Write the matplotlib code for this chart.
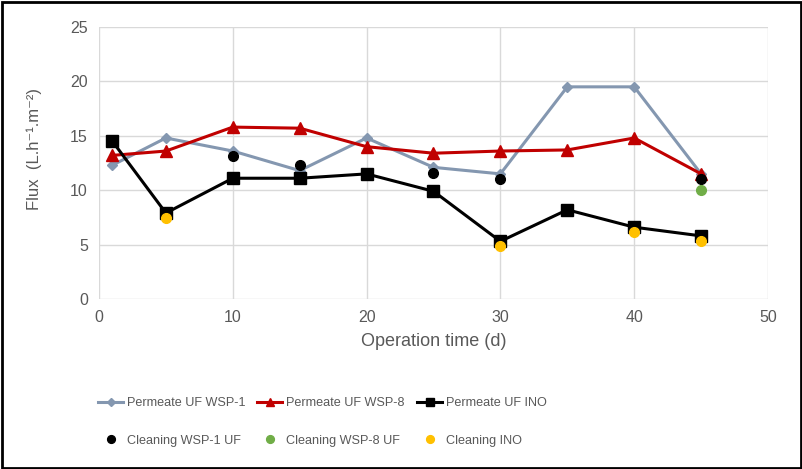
import matplotlib.pyplot as plt
from matplotlib.patches import Rectangle

plt.rcParams['font.family'] = ['Liberation Sans', 'DejaVu Sans']

# Operation time (d)
days = [1, 5, 10, 15, 20, 25, 30, 35, 40, 45]
wsp1 = [12.3, 14.8, 13.6, 11.8, 14.8, 12.1, 11.5, 19.5, 19.5, 11.5]
wsp8 = [13.2, 13.6, 15.8, 15.7, 14.0, 13.4, 13.6, 13.7, 14.8, 11.5]
ino = [14.5, 7.9, 11.1, 11.1, 11.5, 9.9, 5.3, 8.2, 6.6, 5.8]

# cleaning points
clean_wsp1_x = [10, 15, 25, 30, 45]
clean_wsp1_y = [13.1, 12.3, 11.6, 11.0, 11.0]
clean_wsp8_x = [45]
clean_wsp8_y = [10.0]
clean_ino_x = [5, 30, 40, 45]
clean_ino_y = [7.4, 4.9, 6.2, 5.3]

fig = plt.figure(figsize=(8.03, 4.69), dpi=100)
ax = fig.add_axes([99 / 803, 1 - 299 / 469, (768 - 99) / 803, (299 - 27) / 469])

h1, = ax.plot(days, wsp1, color='#8497B0', lw=2.2, marker='D', ms=5, label='Permeate UF WSP-1')
h2, = ax.plot(days, wsp8, color='#C00000', lw=2.2, marker='^', ms=8, label='Permeate UF WSP-8')
h3, = ax.plot(days, ino, color='black', lw=2.2, marker='s', ms=8, label='Permeate UF INO')
c1, = ax.plot(clean_wsp1_x, clean_wsp1_y, ls='none', marker='o', ms=7, color='black', label='Cleaning WSP-1 UF')
c2, = ax.plot(clean_wsp8_x, clean_wsp8_y, ls='none', marker='o', ms=7, color='#70AD47', label='Cleaning WSP-8 UF')
c3, = ax.plot(clean_ino_x, clean_ino_y, ls='none', marker='o', ms=7, color='#FFC000', label='Cleaning INO')

ax.set_xlim(0, 50)
ax.set_ylim(0, 25)
ax.set_xticks(range(0, 51, 10))
ax.set_yticks(range(0, 26, 5))
ax.grid(True, color='#D9D9D9', lw=1)
ax.set_axisbelow(True)
for s in ax.spines.values():
    s.set_visible(False)
ax.tick_params(length=0, labelsize=11.5, labelcolor='#595959', pad=8)
ax.set_xlabel('Operation time (d)', fontsize=13, color='#595959', labelpad=6)
ax.set_ylabel('Flux  (L.h⁻¹.m⁻²)', fontsize=12, color='#595959', labelpad=12)
ax.yaxis.set_label_coords(-0.085, 0.55)

# three legend columns, two rows each
cols = [(98, [h1, c1]), (257, [h2, c2]), (417, [h3, c3])]
for x0, hs in cols:
    leg = fig.legend(hs, [h.get_label() for h in hs], loc='upper left',
                     bbox_to_anchor=(x0 / 803, 1 - 397 / 469), frameon=False,
                     fontsize=9.1, labelcolor='#595959', handlelength=2.0, handletextpad=0.3,
                     labelspacing=2.05, borderpad=0, borderaxespad=0, markerscale=0.8)

fig.patches.append(Rectangle((0.002, 0.003), 0.995, 0.993, transform=fig.transFigure,
                             fill=False, edgecolor='black', lw=2))

fig.savefig('out.png', dpi=100)
